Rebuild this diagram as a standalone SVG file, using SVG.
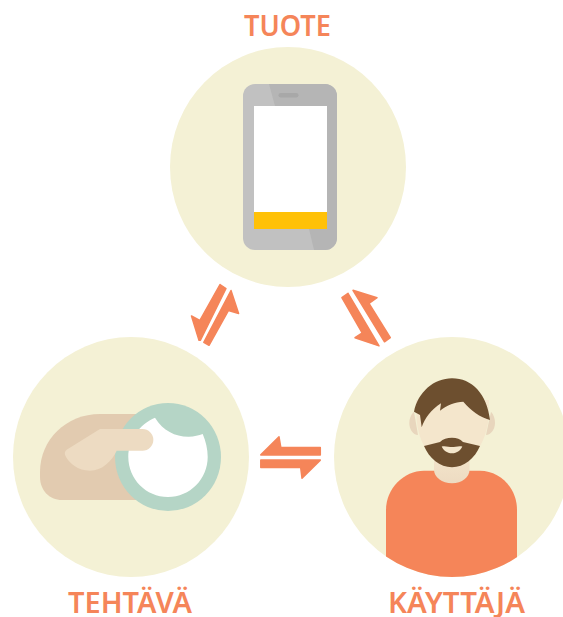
<svg xmlns="http://www.w3.org/2000/svg" width="563" height="617" viewBox="0 0 563 617">
<style>
.bg{fill:#f4f1d5}
.lbl{font-family:"Noto Sans","Open Sans","Liberation Sans",sans-serif;font-weight:600;font-size:29.500px;fill:#f58559}
.arr{fill:#f58559;stroke:#f58559;stroke-width:1.500;stroke-linejoin:round}
.hair{fill:#6d4f2f}
.skin{fill:#f4e6cc}
.ear{fill:#e8d6bd}
</style>
<defs>
<clipPath id="userClip"><ellipse cx="452" cy="457" rx="118" ry="120"/></clipPath>
<linearGradient id="neck" x1="0" y1="0" x2="0" y2="1"><stop offset="0" stop-color="#f4e6cc"/><stop offset="1" stop-color="#eddbc2"/></linearGradient>
</defs>
<rect width="563" height="617" fill="#fff"/>
<g id="node-tuote">
<ellipse class="bg" cx="288" cy="167" rx="118" ry="120"/>
<rect x="243" y="84" width="94" height="166" rx="12" fill="#c1c1c1"/>
<path d="M269 84H325a12 12 0 0 1 12 12V238a12 12 0 0 1-12 12H314L309 229H327V106H275Z" fill="#b5b5b5"/>
<rect x="278.500" y="93" width="20" height="4.500" rx="2.200" fill="#a8a8a8"/>
<rect x="254" y="106" width="73" height="123" fill="#fff"/>
<rect x="254" y="212" width="73" height="17" fill="#ffc107"/>
<text class="lbl" x="244" y="36" textLength="87" lengthAdjust="spacingAndGlyphs">TUOTE</text>
</g>
<g id="node-tehtava">
<ellipse class="bg" cx="131" cy="457" rx="118" ry="120"/>
<path d="M100 414H150V500H62C49 500 40 490 40 477V472C40 440 66 414 100 414Z" fill="#e2cbb0"/>
<ellipse cx="168" cy="457" rx="53" ry="54" fill="#b5d5c6"/>
<path d="M155 417.700C163 431 176 437 189 436.700C194 436.500 199 435.500 202.700 434C205.800 441 207.700 449 207.700 457C207.700 479 190 497 168 497C146 497 128.300 479 128.300 457C128.300 439 140 424 155 417.700Z" fill="#fff"/>
<path d="M100 429H142.500A10.800 10.800 0 0 1 142.500 450.700H116.700C112 461 102 470.700 90 470.700C78 470.700 69 463 65.500 456C64 453 65 451 67 449.500Z" fill="#eddbc2"/>
<text class="lbl" x="68" y="613.300" textLength="124" lengthAdjust="spacingAndGlyphs">TEHTÄVÄ</text>
</g>
<g id="node-kayttaja">
<ellipse class="bg" cx="452" cy="457" rx="118" ry="120"/>
<path clip-path="url(#userClip)" d="M386 510C386 488 404 470.700 424 470.700H480C500 470.700 517 488 517 510V600H386Z" fill="#f58559"/>
<path d="M434 450H469.500V470C469.500 477 462 483.300 452 483.300C442 483.300 434 477 434 470Z" fill="url(#neck)"/>
<path class="ear" d="M414 411.700C410.500 415 409.300 419 409.300 423C409.300 429 413 435 418 435ZM491 411.700C494 415 495 419 495 423C495 429 491 435 486 435Z"/>
<path class="skin" d="M416 400H489L488.500 420C487 430 484 440 480 446C474 458 464 467.300 452 467.300C440 467.300 430 458 424 446C420 438 417.500 430 416.700 420Z"/>
<path class="hair" d="M414 411.700C418 392 434 378.300 452 378.300C472 378.300 487 394 490 420C480 417 471 411 463.300 401.700C455 402 447 405 440 410.700L441 403.300C431 410 425 418 421.700 427.300L420 415Z"/>
<path class="hair" d="M424 446L440 442C443 439 447 437.700 452 437.700C457 437.700 460 439 463 442L480 446C475 458 464 467.300 452 467.300C440 467.300 429 458 424 446Z"/>
<path class="skin" d="M441.700 446.500C445 445.500 449 447 452 447C455 447 459 445.500 462.300 446.500C461 450 457 453.300 452 453.300C447 453.300 443 450 441.700 446.500Z"/>
<text class="lbl" x="388" y="613.300" textLength="137" lengthAdjust="spacingAndGlyphs">KÄYTTÄJÄ</text>
</g>
<g id="connectors">
<path class="arr" d="M220 284.500L226 288.500L200.300 340.300H199L191.500 316L199.800 320.500Z"/>
<path class="arr" d="M231 290.500L238.600 313.500L228.500 310.500L209 345.300L203.800 342.300Z"/>
<path class="arr" d="M353 290.300L377 297.700L369 303.500L390.300 337.700L384.500 341.800Z"/>
<path class="arr" d="M341.900 297.700L348 293.300L379 345.900L355 337.700L362.300 333Z"/>
<path class="arr" d="M260.800 454.900L279 436.800L280.800 447.400H320.300V454.900Z"/>
<path class="arr" d="M260.800 460.100H320.300L302 478.200L300.700 467.600H260.800Z"/>
</g>
</svg>
